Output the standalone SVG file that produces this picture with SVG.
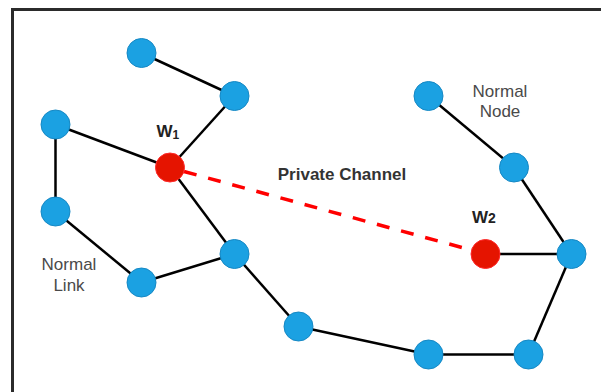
<svg xmlns="http://www.w3.org/2000/svg" width="601" height="392" viewBox="0 0 601 392">
<style>
.frame{fill:none;stroke:#2b2b2b;stroke-width:3}
.link{stroke:#000;stroke-width:2.5;fill:none}
.priv{stroke:#ff0000;stroke-width:3.5;stroke-dasharray:13 12;fill:none}
.n{fill:#1ba1e2;stroke:#1688c4;stroke-width:1}
.w{fill:#e51400;stroke:#ff2a2a;stroke-width:1}
.lbl{font-family:"Liberation Sans",Arial,sans-serif;font-size:17px;fill:#4a4a4a;text-anchor:middle}
.wl{font-family:"Liberation Sans",Arial,sans-serif;font-size:17px;font-weight:bold;fill:#222}
.pc{font-family:"Liberation Sans",Arial,sans-serif;font-size:17px;font-weight:bold;fill:#333;text-anchor:middle}
</style>
<rect x="0" y="0" width="601" height="392" fill="#fff"/>
<rect class="frame" x="12.5" y="9.5" width="600" height="400"/>
<g id="connectors">
<line class="link" x1="141.5" y1="53" x2="234.5" y2="96"/>
<line class="link" x1="234.5" y1="96" x2="170" y2="167.5"/>
<line class="link" x1="55.5" y1="124.5" x2="170" y2="167.5"/>
<line class="link" x1="55.5" y1="124.5" x2="55.5" y2="211.5"/>
<line class="link" x1="55.5" y1="211.5" x2="141.5" y2="282.5"/>
<line class="link" x1="141.5" y1="282.5" x2="234.5" y2="254"/>
<line class="link" x1="170" y1="167.5" x2="234.5" y2="254"/>
<line class="link" x1="234.5" y1="254" x2="298.5" y2="326.5"/>
<line class="link" x1="298.5" y1="326.5" x2="428.5" y2="354.5"/>
<line class="link" x1="428.5" y1="354.5" x2="528.5" y2="354.5"/>
<line class="link" x1="528.5" y1="354.5" x2="571.5" y2="254"/>
<line class="link" x1="571.5" y1="254" x2="485.5" y2="254"/>
<line class="link" x1="428.5" y1="96" x2="514" y2="167.5"/>
<line class="link" x1="514" y1="167.5" x2="571.5" y2="254"/>
<line class="priv" x1="184" y1="171.5" x2="471" y2="250"/>
</g>
<g id="n1"><circle class="n" cx="141.5" cy="53" r="14.5"/></g>
<g id="n2"><circle class="n" cx="234.5" cy="96" r="14.5"/></g>
<g id="n3"><circle class="n" cx="55.5" cy="124.5" r="14.5"/></g>
<g id="n4"><circle class="n" cx="55.5" cy="211.5" r="14.5"/></g>
<g id="n5"><circle class="n" cx="141.5" cy="282.5" r="14.5"/></g>
<g id="n6"><circle class="n" cx="234.5" cy="254" r="14.5"/></g>
<g id="n7"><circle class="n" cx="298.5" cy="326.5" r="14.5"/></g>
<g id="n8"><circle class="n" cx="428.5" cy="354.5" r="14.5"/></g>
<g id="n9"><circle class="n" cx="528.5" cy="354.5" r="14.5"/></g>
<g id="n10"><circle class="n" cx="571.5" cy="254" r="14.5"/></g>
<g id="n11"><circle class="n" cx="428.5" cy="96" r="14.5"/></g>
<g id="n12"><circle class="n" cx="514" cy="167.5" r="14.5"/></g>
<g id="w1"><circle class="w" cx="170" cy="167.5" r="14.5"/>
<text class="wl" x="156.5" y="137">W<tspan font-size="12" dy="2">1</tspan></text></g>
<g id="w2"><circle class="w" cx="485.5" cy="254" r="14.5"/>
<text class="wl" x="472" y="223">W<tspan font-size="14">2</tspan></text></g>
<g id="labels">
<text class="pc" x="342" y="180">Private Channel</text>
<text class="lbl" x="500" y="97">Normal</text>
<text class="lbl" x="500" y="117">Node</text>
<text class="lbl" x="69" y="270">Normal</text>
<text class="lbl" x="69" y="291">Link</text>
</g>
</svg>
